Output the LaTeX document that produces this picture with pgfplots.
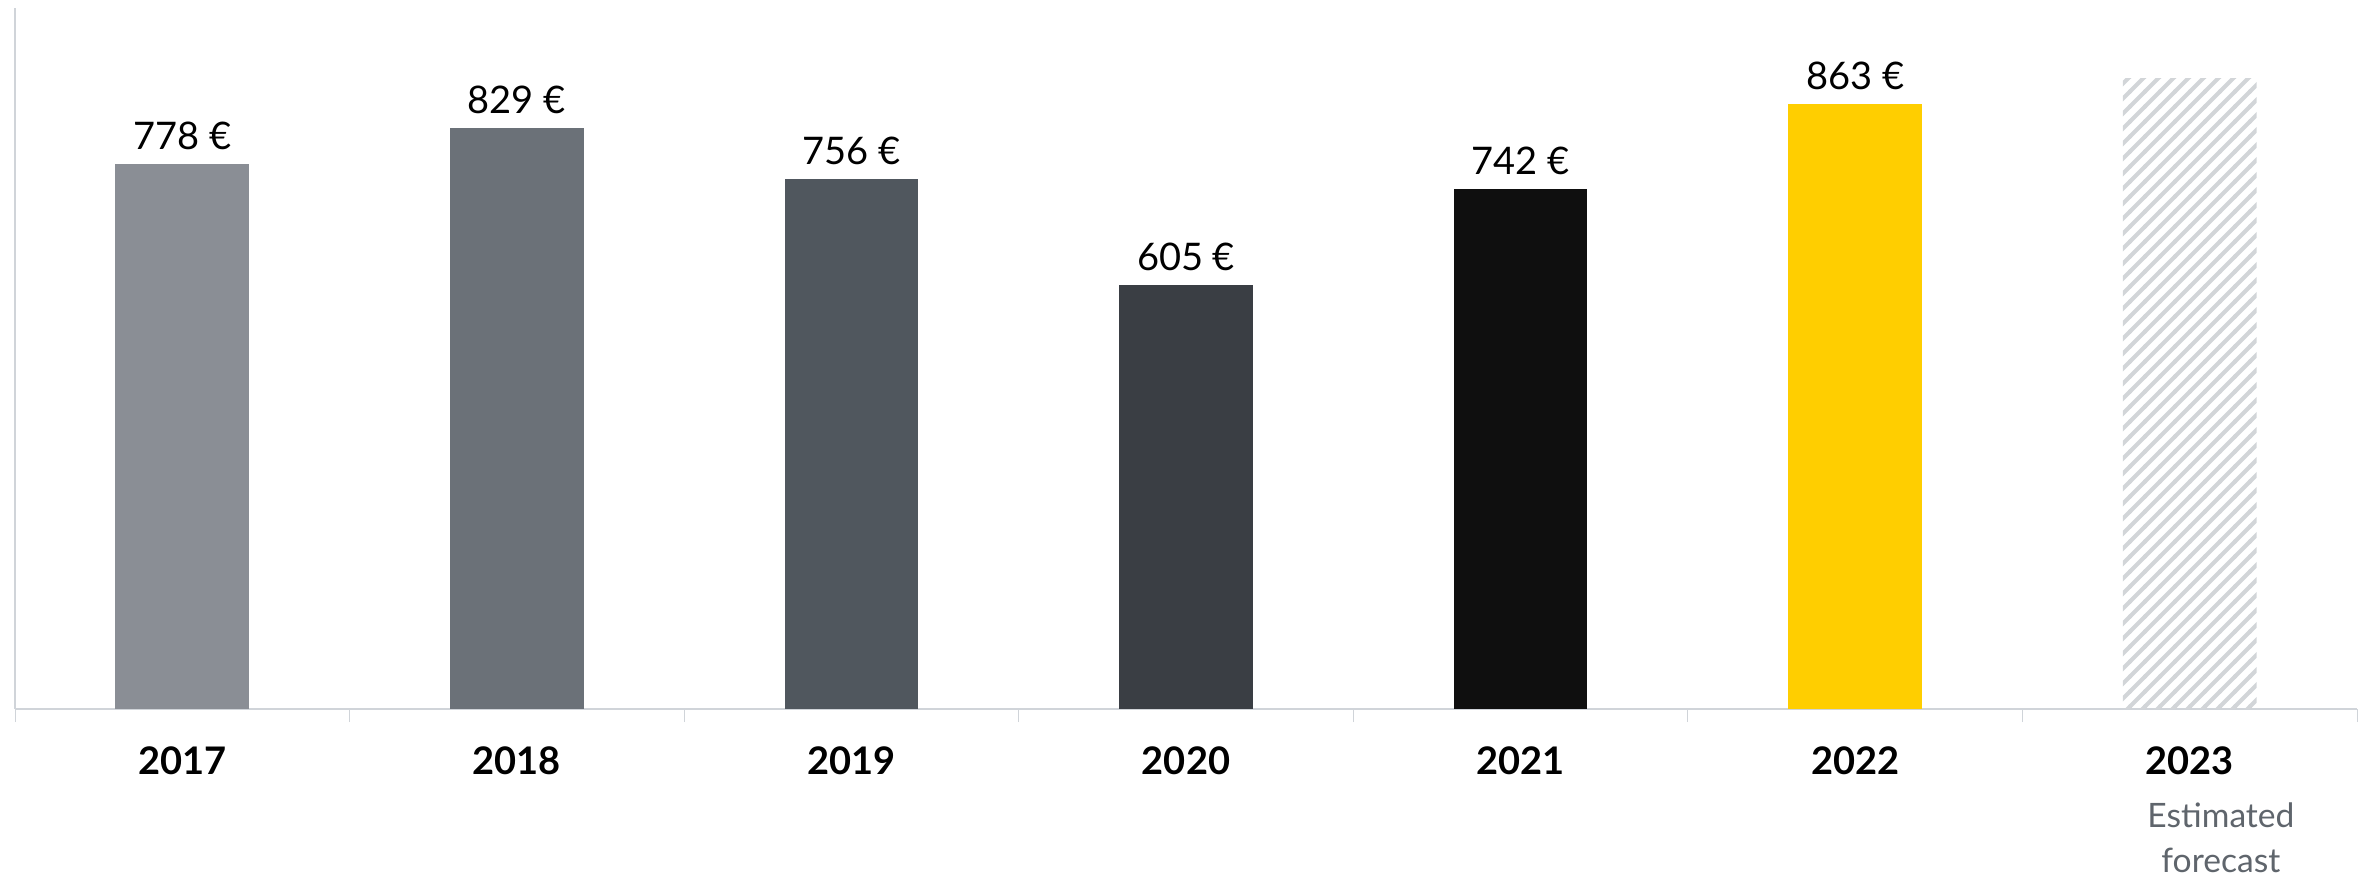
\documentclass[border=0pt]{standalone}
\usepackage{pgfplots}
\pgfplotsset{compat=1.18}
\usepackage{fontspec}
\setmainfont{Lato}
\usetikzlibrary{patterns}

\definecolor{c17}{HTML}{8A8E95}
\definecolor{c18}{HTML}{6B7178}
\definecolor{c19}{HTML}{50575E}
\definecolor{c20}{HTML}{3A3E44}
\definecolor{c21}{HTML}{0F0F0F}
\definecolor{c22}{HTML}{FFCE00}
\definecolor{hatch}{HTML}{D2D5D8}
\definecolor{axisgray}{HTML}{D0D4D9}
\definecolor{subgray}{HTML}{5F656C}

% diagonal stripes for the forecast bar
\pgfdeclarepatternformonly{forecast}{\pgfqpoint{-0.5pt}{-0.5pt}}{\pgfqpoint{4.25pt}{4.25pt}}{\pgfqpoint{3.75pt}{3.75pt}}{%
  \pgfsetlinewidth{1pt}%
  \pgfpathmoveto{\pgfqpoint{-0.3pt}{-0.3pt}}%
  \pgfpathlineto{\pgfqpoint{4.05pt}{4.05pt}}%
  \pgfusepath{stroke}}

\begin{document}
\begin{tikzpicture}
\begin{axis}[
    name=ax,
    scale only axis,
    width=585.5pt, height=175.25pt,
    xmin=-0.5, xmax=6.5,
    ymin=0, ymax=1000,
    ybar, bar width=33.46pt, bar shift=0pt,
    axis x line*=bottom, axis y line*=left,
    axis line style={axisgray},
    ytick=\empty,
    xtick={-0.5,0.5,...,6.5},
    x tick label as interval,
    xticklabels={2017,2018,2019,2020,2021,2022,2023},
    xticklabel style={font=\fontsize{9.5}{11}\selectfont\bfseries, yshift=-2.6pt},
    tick style={axisgray},
    major tick length=3.25pt,
    tick align=outside,
    point meta=explicit symbolic,
    nodes near coords,
    every node near coord/.append style={font=\fontsize{9.5}{11}\selectfont, black},
    clip=false,
]
\addplot[fill=c17, draw=none] coordinates {(0,778) [778 €]};
\addplot[fill=c18, draw=none] coordinates {(1,829) [829 €]};
\addplot[fill=c19, draw=none] coordinates {(2,756) [756 €]};
\addplot[fill=c20, draw=none] coordinates {(3,605) [605 €]};
\addplot[fill=c21, draw=none] coordinates {(4,742) [742 €]};
\addplot[fill=c22, draw=none] coordinates {(5,863) [863 €]};
\addplot[draw=none, pattern=forecast, pattern color=hatch, nodes near coords={}] coordinates {(6,900) [ ]};
\node[font=\fontsize{8.4}{11.25}\selectfont, text=subgray, align=center, anchor=north]
    at (axis cs:6,0) [xshift=7.8pt, yshift=-20pt] {Estimated\\forecast};
\end{axis}
\useasboundingbox ([xshift=-3.75pt,yshift=-41.5pt]ax.south west) rectangle ([xshift=3pt,yshift=2pt]ax.north east);
\end{tikzpicture}
\end{document}
